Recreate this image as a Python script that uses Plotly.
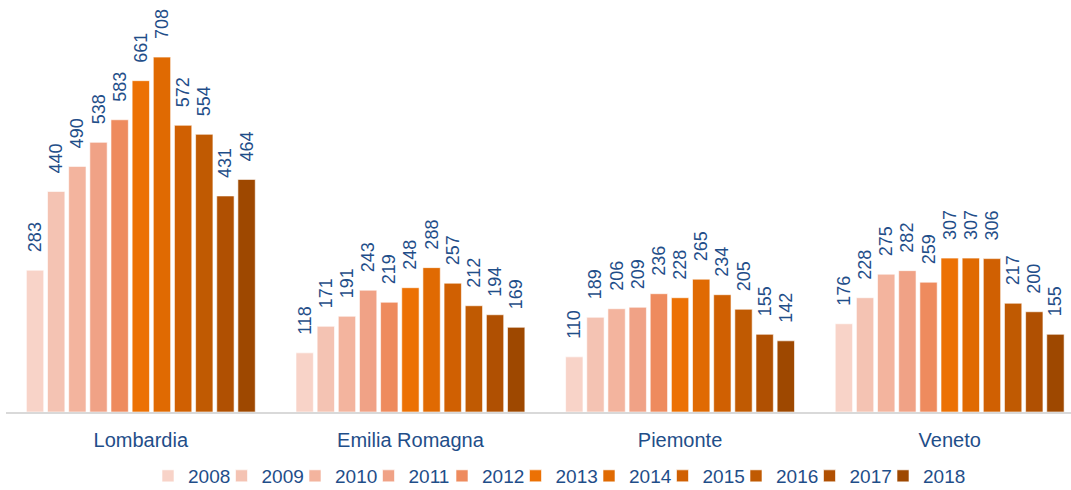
import plotly.graph_objects as go

regions = ["Lombardia", "Emilia Romagna", "Piemonte", "Veneto"]
years = ["2008", "2009", "2010", "2011", "2012", "2013", "2014", "2015", "2016", "2017", "2018"]
lombardia = [283, 440, 490, 538, 583, 661, 708, 572, 554, 431, 464]
emilia = [118, 171, 191, 243, 219, 248, 288, 257, 212, 194, 169]
piemonte = [110, 189, 206, 209, 236, 228, 265, 234, 205, 155, 142]
veneto = [176, 228, 275, 282, 259, 307, 307, 306, 217, 200, 155]
colors = ["#F8D3C8", "#F4C3B3", "#F3B49E", "#F0A286", "#EE8B5E", "#EC7104",
          "#E06A02", "#D06002", "#C05A02", "#B05002", "#9E4800"]

series = list(zip(lombardia, emilia, piemonte, veneto))
blue = "#1F4E89"
font = "Liberation Sans, Arial"

W, H = 1071, 490
ML, MR, MT, MB = 6, 0, 10, 78
plot_w = W - ML - MR
plot_h = H - MT - MB

fig = go.Figure()
legend_layout = {}
for i, y in enumerate(years):
    vals = list(series[i])
    lname = "legend" if i == 0 else f"legend{i + 1}"
    fig.add_trace(go.Bar(
        x=regions, y=vals, name=y, legend=lname,
        marker=dict(color=colors[i], line=dict(color="rgba(255,255,255,0.6)", width=1)),
        text=["\u00a0\u00a0\u00a0" + str(v) for v in vals], textposition="outside", textangle=-90,
        textfont=dict(color=blue, size=18, family=font),
        constraintext="none", cliponaxis=False,
    ))
    px_left = 148 + 73.5 * i
    legend_layout[lname] = dict(
        orientation="h", x=(px_left - ML) / plot_w, xanchor="left",
        y=-(476 - (H - MB)) / plot_h, yanchor="middle",
        font=dict(size=19, color=blue, family=font), itemwidth=30,
        bgcolor="rgba(0,0,0,0)",
    )

fig.update_layout(
    width=W, height=H,
    margin=dict(l=ML, r=MR, t=MT, b=MB, autoexpand=False),
    barmode="group", bargap=0.137, bargroupgap=0.18,
    plot_bgcolor="white", paper_bgcolor="white",
    font=dict(family=font, size=20, color=blue),
    xaxis=dict(range=[-0.5, 3.45], showline=True, linecolor="#D9D9D9", linewidth=2,
               ticks="", showgrid=False, tickfont=dict(size=20, color=blue),
               ticklabelstandoff=9),
    yaxis=dict(range=[0, 802], visible=False, showgrid=False),
    showlegend=True,
    **legend_layout,
)

fig.write_html("out.html", config={"displayModeBar": False},
               post_script="document.body.style.margin='0';")
